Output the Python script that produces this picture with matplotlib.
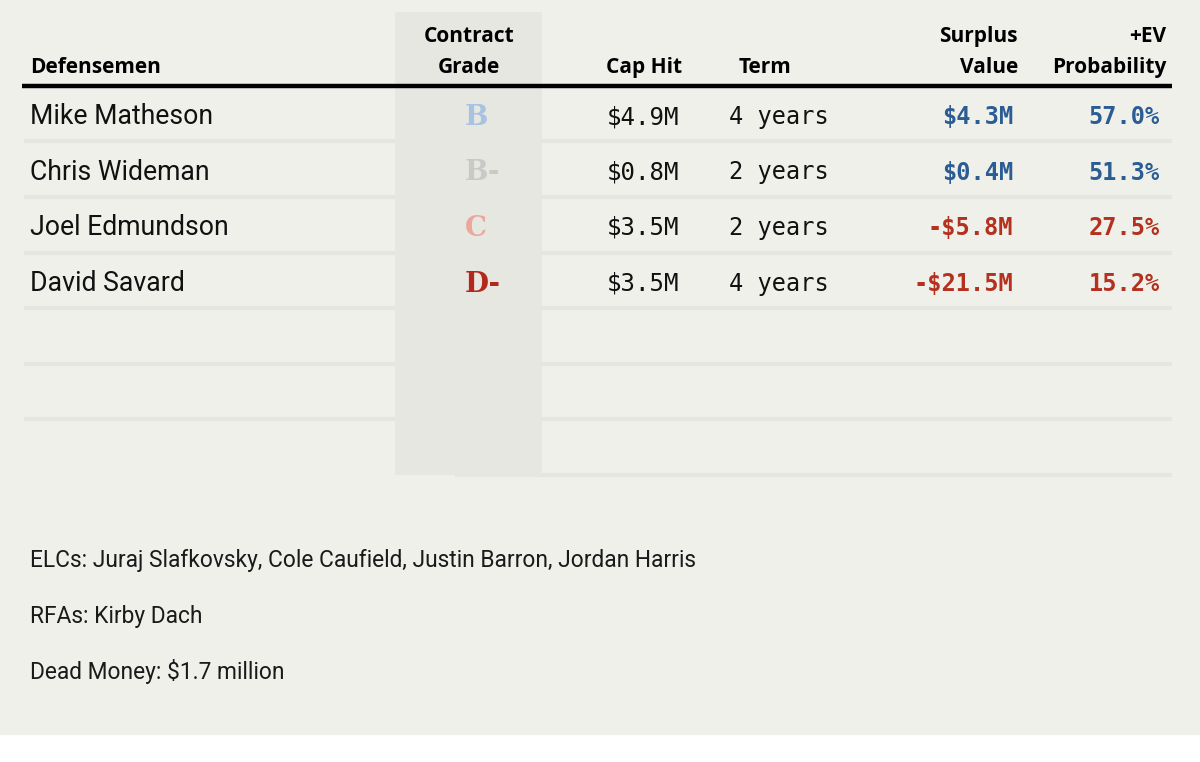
import matplotlib.pyplot as plt
from matplotlib.patches import Rectangle

# table content
players = ["Mike Matheson", "Chris Wideman", "Joel Edmundson", "David Savard"]
grades = ["B", "B-", "C", "D-"]
grade_colors = ["#a7c3df", "#c9c9c7", "#eba79c", "#b3281a"]
cap_hit = ["$4.9M", "$0.8M", "$3.5M", "$3.5M"]
term = ["4 years", "2 years", "2 years", "4 years"]
surplus = ["$4.3M", "$0.4M", "-$5.8M", "-$21.5M"]
ev_prob = ["57.0%", "51.3%", "27.5%", "15.2%"]
value_colors = ["#2b5c93", "#2b5c93", "#b3311e", "#b3311e"]
notes = ["ELCs: Juraj Slafkovsky, Cole Caufield, Justin Barron, Jordan Harris",
         "RFAs: Kirby Dach",
         "Dead Money: $1.7 million"]

bg = "#f0f0eb"
sans = ["Roboto", "DejaVu Sans"]
head = ["Open Sans", "DejaVu Sans"]
mono = ["DejaVu Sans Mono"]
serif = ["DejaVu Serif"]

fig = plt.figure(figsize=(12, 7.62), dpi=100)
ax = fig.add_axes([0, 0, 1, 1])
ax.set_xlim(0, 1200)
ax.set_ylim(762, 0)
ax.axis("off")

# background panel
ax.add_patch(Rectangle((0, 0), 1200, 734, color=bg, zorder=0))

# row separators
row_lines = [141, 197, 253, 308, 364, 419]
for y in row_lines:
    ax.plot([24, 1172], [y, y], color="#e6e6e1", lw=3, zorder=1, solid_capstyle="butt")
ax.plot([455, 1172], [475, 475], color="#e6e6e1", lw=3, zorder=1, solid_capstyle="butt")

# shaded grade column
ax.add_patch(Rectangle((395, 12), 147, 463, color="#e7e7e2", zorder=2, lw=0))

# header rule
ax.plot([22, 1172], [85.5, 85.5], color="black", lw=3.2, zorder=3, solid_capstyle="butt")

# header
hkw = dict(fontsize=15, fontweight="bold", family=head, va="baseline", zorder=4)
ax.text(30, 73, "Defensemen", ha="left", **hkw)
ax.text(469, 42, "Contract", ha="center", **hkw)
ax.text(469, 73, "Grade", ha="center", **hkw)
ax.text(606, 73, "Cap Hit", ha="left", **hkw)
ax.text(739, 73, "Term", ha="left", **hkw)
ax.text(1018, 42, "Surplus", ha="right", **hkw)
ax.text(1018, 73, "Value", ha="right", **hkw)
ax.text(1166, 42, "+EV", ha="right", **hkw)
ax.text(1166, 73, "Probability", ha="right", **hkw)

# rows
row_y = [124, 179.5, 235, 291]
for i in range(len(players)):
    y = row_y[i]
    ax.text(30, y, players[i], fontsize=19.2, family=sans, color="#111111",
            ha="left", va="baseline", zorder=4)
    ax.text(465, y + 1, grades[i], fontsize=20, family=serif, fontweight="heavy",
            color=grade_colors[i], ha="left", va="baseline", zorder=4)
    ax.text(607, y, cap_hit[i], fontsize=17.3, family=mono, color="#111111",
            ha="left", va="baseline", zorder=4)
    ax.text(729, y, term[i], fontsize=17, family=mono, color="#111111",
            ha="left", va="baseline", zorder=4)
    ax.text(1013, y, surplus[i], fontsize=17, family=mono, fontweight="bold",
            color=value_colors[i], ha="right", va="baseline", zorder=4)
    ax.text(1160, y, ev_prob[i], fontsize=17, family=mono, fontweight="bold",
            color=value_colors[i], ha="right", va="baseline", zorder=4)

# footnotes
note_y = [567, 623, 679]
for y, t in zip(note_y, notes):
    ax.text(30, y, t, fontsize=16.35, family=sans, color="#1a1a1a",
            ha="left", va="baseline", zorder=4)

fig.savefig("out.png", dpi=100, facecolor="white")
